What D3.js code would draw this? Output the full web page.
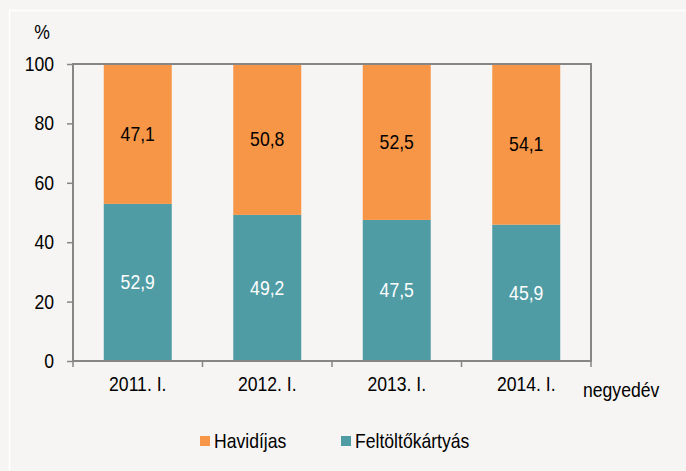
<!DOCTYPE html>
<html>
<head>
<meta charset="utf-8">
<script src="https://cdn.jsdelivr.net/npm/d3@7"></script>
<style>
  body { margin: 0; background: #f6f5f3; }
  svg { display: block; }
  svg text { font-family: "Liberation Sans", Arial, sans-serif; }
</style>
</head>
<body>
<div id="wrapper"></div>
<script>
// data
const categories = ["2011. I.", "2012. I.", "2013. I.", "2014. I."]
const feltolto = [52.9, 49.2, 47.5, 45.9]
const havidijas = [47.1, 50.8, 52.5, 54.1]
const yTicks = [0, 20, 40, 60, 80, 100]
const seriesNames = ["Havidíjas", "Feltöltőkártyás"]
const colors = { havi: "#f79646", felt: "#4f9ca5" }

const width = 686, height = 471
const margin = { top: 64, left: 73, right: 95, bottom: 110 }
const innerW = width - margin.left - margin.right
const innerH = height - margin.top - margin.bottom
const fs = 20
const squeezeK = 0.88

// the original font is taller than it is wide, so squeeze text horizontally
function squeeze(sel) {
  sel.each(function () {
    const t = d3.select(this)
    const xv = +(t.attr("x") || 0)
    t.attr("x", xv / squeezeK).attr("transform", `scale(${squeezeK},1)`)
  })
}

const svg = d3.select("#wrapper").append("svg")
  .attr("width", width)
  .attr("height", height)

svg.append("rect")
  .attr("width", width).attr("height", height)
  .attr("fill", "#f6f5f3")

// thin white inner border lines
svg.append("line").attr("x1", 9).attr("x2", width).attr("y1", 10.5).attr("y2", 10.5)
  .attr("stroke", "#ffffff").attr("stroke-width", 1.5)
svg.append("line").attr("x1", 9.5).attr("x2", 9.5).attr("y1", 10).attr("y2", height)
  .attr("stroke", "#ffffff").attr("stroke-width", 1.5)

const x = d3.scaleBand().domain(categories).range([0, innerW]).padding(0)
const y = d3.scaleLinear().domain([0, 100]).range([innerH, 0])
const barW = x.bandwidth() * 0.525

const g = svg.append("g").attr("transform", `translate(${margin.left},${margin.top})`)

const rows = categories.map((c, i) => ({ cat: c, felt: feltolto[i], havi: havidijas[i] }))

// teal bottom
g.selectAll(".bar-felt").data(rows).join("rect")
  .attr("class", "bar-felt")
  .attr("x", d => x(d.cat) + (x.bandwidth() - barW) / 2)
  .attr("width", barW)
  .attr("y", d => y(d.felt))
  .attr("height", d => innerH - y(d.felt))
  .attr("fill", colors.felt)

// orange top
g.selectAll(".bar-havi").data(rows).join("rect")
  .attr("class", "bar-havi")
  .attr("x", d => x(d.cat) + (x.bandwidth() - barW) / 2)
  .attr("width", barW)
  .attr("y", d => y(d.felt + d.havi))
  .attr("height", d => y(d.felt) - y(d.felt + d.havi))
  .attr("fill", colors.havi)

// value labels
g.selectAll(".lab-felt").data(rows).join("text")
  .attr("x", d => x(d.cat) + x.bandwidth() / 2)
  .attr("y", d => y(d.felt / 2))
  .attr("dy", "0.35em")
  .attr("text-anchor", "middle")
  .attr("font-size", fs)
  .attr("fill", "#ffffff")
  .text(d => d3.format(".1f")(d.felt).replace(".", ","))
  .call(squeeze)

g.selectAll(".lab-havi").data(rows).join("text")
  .attr("x", d => x(d.cat) + x.bandwidth() / 2)
  .attr("y", d => y(d.felt + d.havi / 2))
  .attr("dy", "0.35em")
  .attr("text-anchor", "middle")
  .attr("font-size", fs)
  .attr("fill", "#000000")
  .text(d => d3.format(".1f")(d.havi).replace(".", ","))
  .call(squeeze)

// frame
g.append("rect")
  .attr("x", 0).attr("y", 0)
  .attr("width", innerW).attr("height", innerH)
  .attr("fill", "none")
  .attr("stroke", "#868686").attr("stroke-width", 2)

// y axis
const yAxis = g.append("g")
  .call(d3.axisLeft(y).tickValues(yTicks).tickSize(6).tickPadding(13))
yAxis.select(".domain").remove()
yAxis.selectAll(".tick line").attr("stroke", "#868686").attr("stroke-width", 1.5)
yAxis.selectAll(".tick text").attr("font-size", fs).attr("fill", "#000")
  .attr("font-family", null)
  .call(squeeze)

// x axis: ticks at band boundaries
const xAxis = g.append("g").attr("transform", `translate(0,${innerH})`)
  .call(d3.axisBottom(x).tickSize(0).tickPadding(16))
xAxis.select(".domain").remove()
xAxis.selectAll(".tick text").attr("font-size", fs).attr("fill", "#000")
  .attr("font-family", null)
  .call(squeeze)

const bounds = categories.map(c => x(c)).concat([innerW])
g.selectAll(".xtick").data(bounds).join("line")
  .attr("x1", d => d).attr("x2", d => d)
  .attr("y1", innerH).attr("y2", innerH + 6)
  .attr("stroke", "#868686").attr("stroke-width", 1.5)

// axis titles
svg.append("text")
  .attr("x", 42).attr("y", 39)
  .attr("text-anchor", "middle")
  .attr("font-size", fs)
  .text("%")
  .call(squeeze)

svg.append("text")
  .attr("x", 583).attr("y", 397)
  .attr("font-size", fs)
  .text("negyedév")
  .call(squeeze)

// legend
const legendItems = [
  { name: seriesNames[0], color: colors.havi, x: 200 },
  { name: seriesNames[1], color: colors.felt, x: 341 }
]
const legend = svg.append("g").attr("transform", "translate(0,441)")
legend.selectAll("rect").data(legendItems).join("rect")
  .attr("x", d => d.x).attr("y", -5)
  .attr("width", 10).attr("height", 10)
  .attr("fill", d => d.color)
legend.selectAll("text").data(legendItems).join("text")
  .attr("x", d => d.x + 14).attr("y", 0)
  .attr("dy", "0.35em")
  .attr("font-size", fs)
  .text(d => d.name)
  .call(squeeze)
</script>
</body>
</html>
